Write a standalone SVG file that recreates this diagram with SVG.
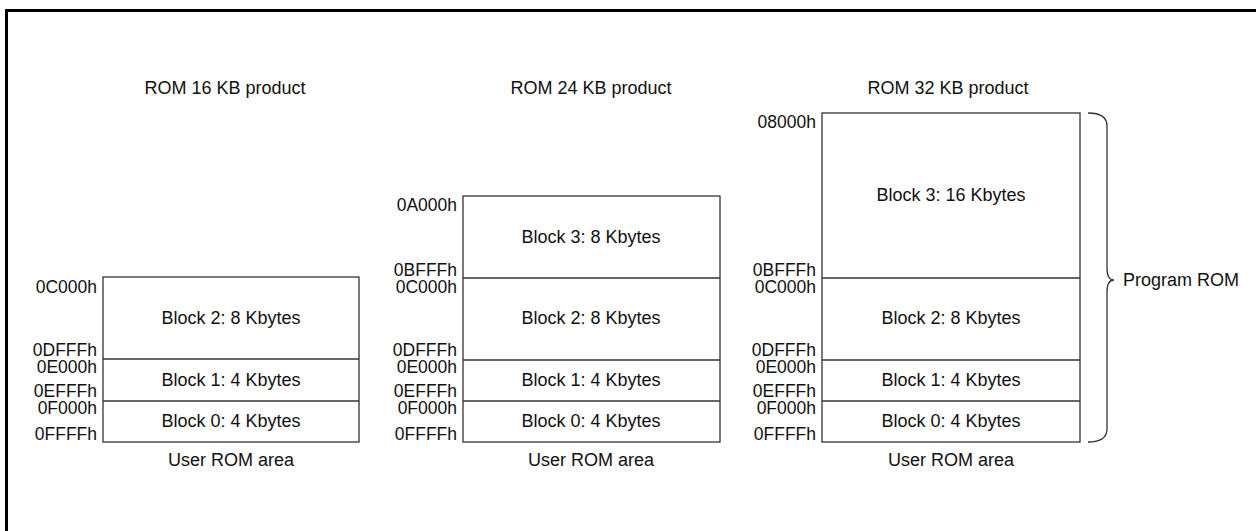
<svg xmlns="http://www.w3.org/2000/svg" width="1256" height="531" viewBox="0 0 1256 531">
<style>
text{font-family:"Liberation Sans",Arial,sans-serif;font-size:18px;fill:#111}
.a{text-anchor:end;font-size:17.5px}
.c{text-anchor:middle}
.box{fill:#fff;stroke:#333;stroke-width:1.3}
.ln{stroke:#333;stroke-width:1.3;fill:none}
</style>
<rect width="1256" height="531" fill="#fff"/>
<path d="M6.5,531 L6.5,10.5 L1256,10.5" fill="none" stroke="#000" stroke-width="3"/>

<g id="rom16">
<text class="c" x="225" y="94">ROM 16 KB product</text>
<rect class="box" x="103" y="277" width="256" height="165"/>
<line class="ln" x1="103" y1="359" x2="359" y2="359"/>
<line class="ln" x1="103" y1="401" x2="359" y2="401"/>
<text class="c" x="231" y="324">Block 2: 8 Kbytes</text>
<text class="c" x="231" y="386">Block 1: 4 Kbytes</text>
<text class="c" x="231" y="427">Block 0: 4 Kbytes</text>
<text class="a" x="97" y="293">0C000h</text>
<text class="a" x="97" y="356">0DFFFh</text>
<text class="a" x="97" y="373">0E000h</text>
<text class="a" x="97" y="397">0EFFFh</text>
<text class="a" x="97" y="414">0F000h</text>
<text class="a" x="97" y="440">0FFFFh</text>
<text class="c" x="231" y="466">User ROM area</text>
</g>

<g id="rom24">
<text class="c" x="591" y="94">ROM 24 KB product</text>
<rect class="box" x="463" y="196" width="257" height="246"/>
<line class="ln" x1="463" y1="278" x2="720" y2="278"/>
<line class="ln" x1="463" y1="360" x2="720" y2="360"/>
<line class="ln" x1="463" y1="401" x2="720" y2="401"/>
<text class="c" x="591" y="243">Block 3: 8 Kbytes</text>
<text class="c" x="591" y="324">Block 2: 8 Kbytes</text>
<text class="c" x="591" y="386">Block 1: 4 Kbytes</text>
<text class="c" x="591" y="427">Block 0: 4 Kbytes</text>
<text class="a" x="457" y="211">0A000h</text>
<text class="a" x="457" y="276">0BFFFh</text>
<text class="a" x="457" y="293">0C000h</text>
<text class="a" x="457" y="356">0DFFFh</text>
<text class="a" x="457" y="373">0E000h</text>
<text class="a" x="457" y="397">0EFFFh</text>
<text class="a" x="457" y="414">0F000h</text>
<text class="a" x="457" y="440">0FFFFh</text>
<text class="c" x="591" y="466">User ROM area</text>
</g>

<g id="rom32">
<text class="c" x="948" y="94">ROM 32 KB product</text>
<rect class="box" x="822" y="113" width="258" height="329"/>
<line class="ln" x1="822" y1="278" x2="1080" y2="278"/>
<line class="ln" x1="822" y1="360" x2="1080" y2="360"/>
<line class="ln" x1="822" y1="401" x2="1080" y2="401"/>
<text class="c" x="951" y="201">Block 3: 16 Kbytes</text>
<text class="c" x="951" y="324">Block 2: 8 Kbytes</text>
<text class="c" x="951" y="386">Block 1: 4 Kbytes</text>
<text class="c" x="951" y="427">Block 0: 4 Kbytes</text>
<text class="a" x="816" y="128">08000h</text>
<text class="a" x="816" y="276">0BFFFh</text>
<text class="a" x="816" y="293">0C000h</text>
<text class="a" x="816" y="356">0DFFFh</text>
<text class="a" x="816" y="373">0E000h</text>
<text class="a" x="816" y="397">0EFFFh</text>
<text class="a" x="816" y="414">0F000h</text>
<text class="a" x="816" y="440">0FFFFh</text>
<text class="c" x="951" y="466">User ROM area</text>
</g>

<g id="program-rom">
<path class="ln" d="M1088,113 Q1107,113 1107,126 L1107,268 Q1107,280 1114,280 Q1107,280 1107,292 L1107,429 Q1107,442 1088,442" stroke-width="1.5"/>
<text x="1123" y="286">Program ROM</text>
</g>
</svg>
